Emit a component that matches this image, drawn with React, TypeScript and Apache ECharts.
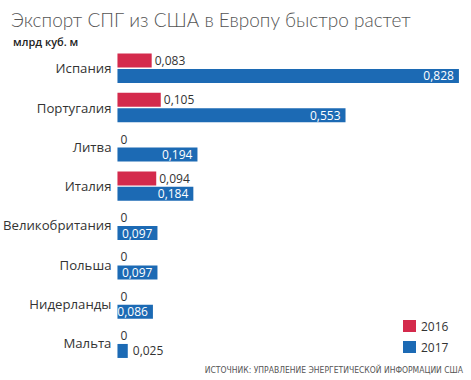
import React, { useEffect, useRef } from "react";
import * as echarts from "echarts";

const categories = ["Испания", "Португалия", "Литва", "Италия", "Великобритания", "Польша", "Нидерланды", "Мальта"];
const values2016 = [0.083, 0.105, 0, 0.094, 0, 0, 0, 0];
const values2017 = [0.828, 0.553, 0.194, 0.184, 0.097, 0.097, 0.086, 0.025];
const seriesNames = ["2016", "2017"];
const titleText = "Экспорт СПГ из США в Европу быстро растет";
const subtitleText = "млрд куб. м";
const sourceText = "ИСТОЧНИК: УПРАВЛЕНИЕ ЭНЕРГЕТИЧЕСКОЙ ИНФОРМАЦИИ США";

const RED = "#d42a4c";
const BLUE = "#1c6ab4";

const fmt = (v: number) => (v === 0 ? "0" : v.toFixed(3).replace(".", ","));

export default function App() {
  const ref = useRef<HTMLDivElement>(null);
  useEffect(() => {
    document.body.style.margin = "0";
    if (!ref.current) return;
    const chart = echarts.init(ref.current, null, { renderer: "svg" });
    const font = "'Open Sans', sans-serif";
    chart.setOption({
      animation: false,
      textStyle: { fontFamily: font },
      title: [
        {
          text: titleText,
          left: 6,
          top: 5,
          textStyle: { fontSize: 19, fontWeight: 300, color: "#555", fontFamily: "Lato, sans-serif" },
        },
        {
          text: subtitleText,
          left: 8,
          top: 31,
          textStyle: { fontSize: 11, fontWeight: 600, color: "#222", fontFamily: font },
        },
      ],
      legend: {
        orient: "vertical",
        left: 398,
        top: 315,
        itemWidth: 13,
        itemHeight: 12,
        itemGap: 9,
        icon: "rect",
        data: seriesNames,
        textStyle: { fontSize: 12, color: "#333", fontFamily: font },
      },
      graphic: [
        {
          type: "text",
          right: 8,
          top: 365,
          style: { text: sourceText, fontSize: 8.5, fill: "#555", fontFamily: "'DejaVu Sans Condensed', sans-serif" },
        },
      ],
      grid: { left: 117, right: 3, top: 48.6, bottom: 17.1, containLabel: false },
      xAxis: { type: "value", min: 0, max: 0.85, show: false },
      yAxis: {
        type: "category",
        inverse: true,
        data: categories,
        axisLine: { show: false },
        axisTick: { show: false },
        axisLabel: { fontSize: 13.2, color: "#333", margin: 6, fontFamily: font },
      },
      series: [
        {
          name: seriesNames[0],
          type: "bar",
          data: values2016,
          barWidth: 14,
          barGap: "10%",
          itemStyle: { color: RED },
          label: {
            show: true,
            position: "right",
            distance: 3,
            fontSize: 12,
            color: "#333",
            fontFamily: font,
            formatter: (p: any) => fmt(p.value),
          },
        },
        {
          name: seriesNames[1],
          type: "bar",
          data: values2017.map((v) =>
            v < 0.05
              ? { value: v, label: { position: "right", color: "#333", distance: 5 } }
              : v
          ),
          barWidth: 14,
          itemStyle: { color: BLUE },
          label: {
            show: true,
            position: "insideRight",
            distance: 5,
            fontSize: 12,
            color: "#fff",
            fontFamily: font,
            formatter: (p: any) => fmt(p.value),
          },
        },
      ],
    });
    return () => chart.dispose();
  }, []);
  return <div ref={ref} style={{ width: 471, height: 380 }} />;
}
